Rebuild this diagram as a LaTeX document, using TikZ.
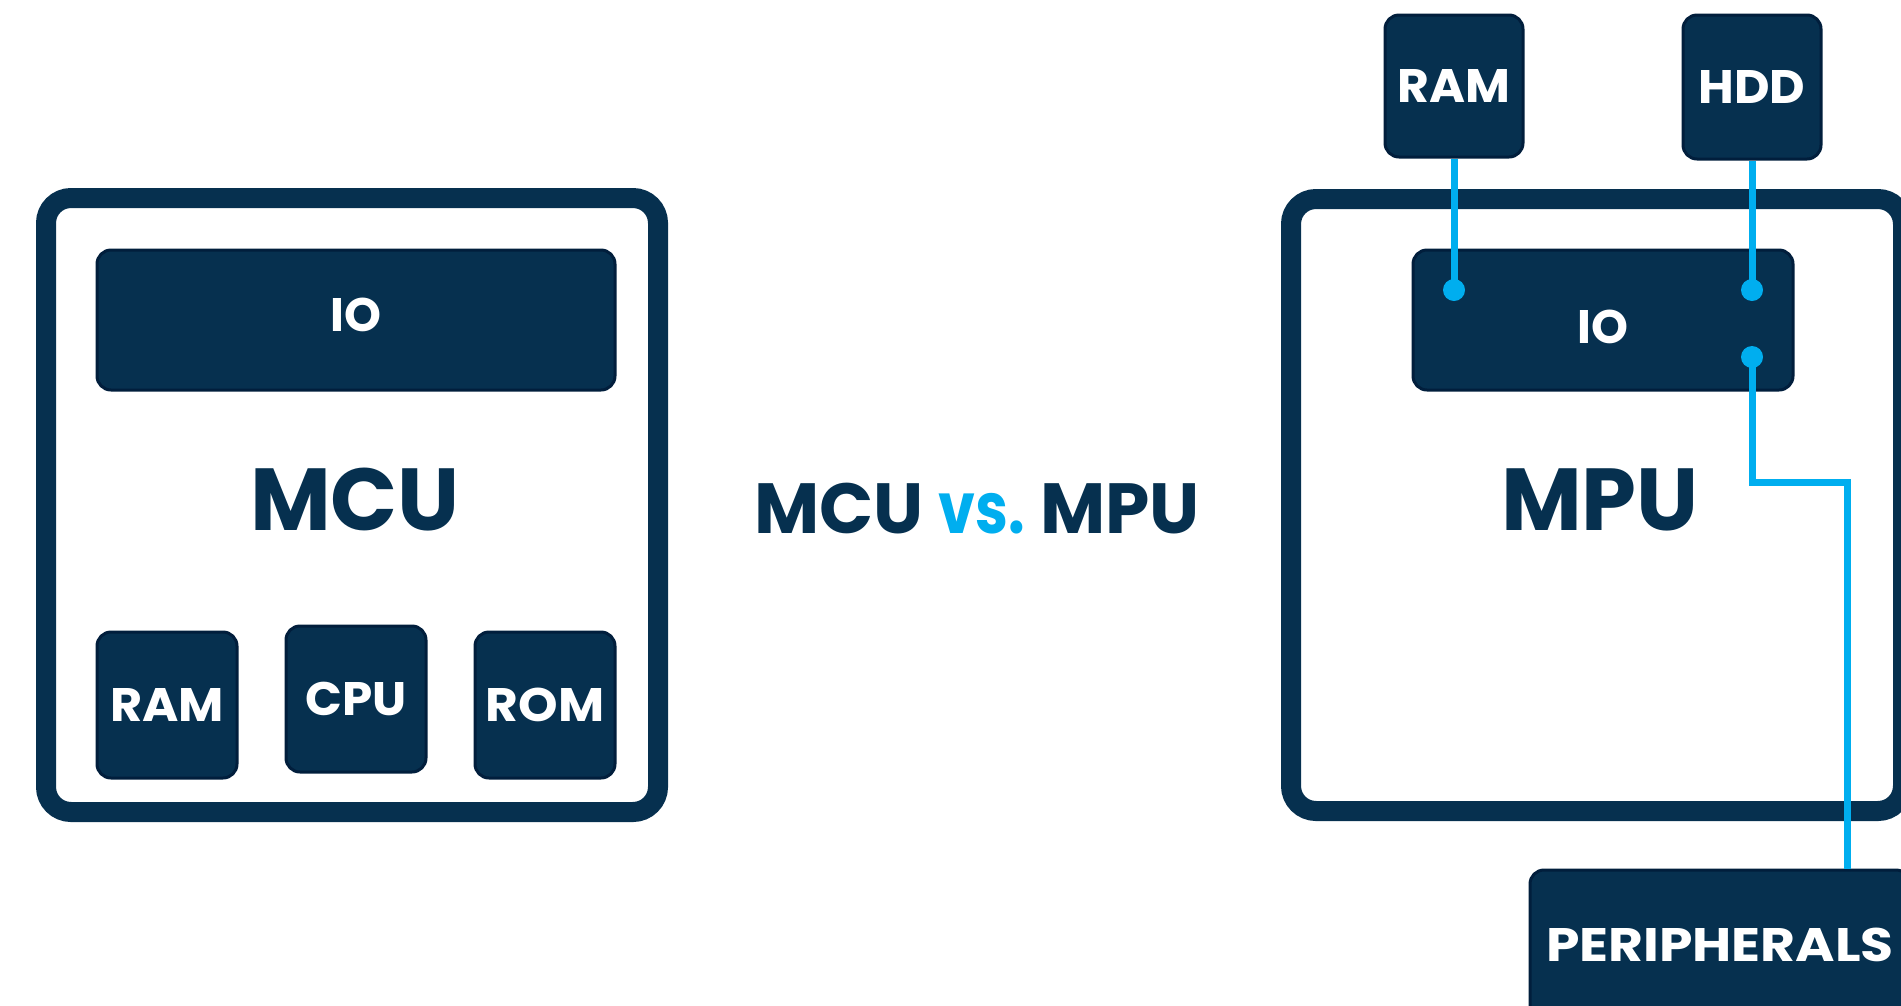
\documentclass[tikz,border=0pt]{standalone}
\usepackage{fontspec}
\setmainfont{Poppins}
\definecolor{navy}{HTML}{06304F}
\definecolor{navyedge}{HTML}{011E3C}
\definecolor{wire}{HTML}{00AEEF}
\newcommand{\wide}[2]{\scalebox{#1}[1]{#2}}

\begin{document}
\begin{tikzpicture}[x=1pt,y=-1pt,
  frame/.style={rectangle, draw=navy, line width=20pt, rounded corners=25pt, inner sep=0pt},
  chiptext/.style={text=white, font=\fontsize{47}{47}\selectfont\bfseries, inner sep=0pt},
  chip/.style={rectangle, fill=navy, draw=navyedge, line width=3pt, rounded corners=14pt,
    chiptext},
  sq/.style={chip, minimum width=140pt, minimum height=146pt},
  bar/.style={chip, minimum width=518pt, minimum height=140pt},
  big/.style={text=navy, font=\fontsize{88}{88}\selectfont\bfseries, inner sep=0pt},
  title/.style={text=navy, font=\fontsize{71}{71}\selectfont\bfseries, inner sep=0pt},
  wireline/.style={draw=wire, line width=7pt, line join=miter},
  pin/.style={circle, fill=wire, minimum size=22pt, inner sep=0pt},
]
\useasboundingbox (0,0) rectangle (1901,1005);

% ---------- MCU: everything on one chip ----------
\node[frame, minimum width=612pt, minimum height=614pt] (mcuframe) at (352,505) {};
\node[bar, label={[chiptext, yshift=5pt]center:IO}] (mcuio) at (356,320) {};
\node[big] (mcu) at (355,500) {MCU};
\node[sq] (mcuram) at (167,705) {\wide{1.05}{RAM}};
\node[sq] (mcucpu) at (356,699) {\wide{1.03}{CPU}};
\node[sq] (mcurom) at (545,705) {\wide{1.07}{ROM}};

% ---------- title ----------
\node[title] (head) at (977,509) {MCU {\color{wire}\wide{0.83}{vs.}} MPU};

% ---------- MPU: memory and storage outside ----------
\node[frame, minimum width=612pt, minimum height=612pt] (mpuframe) at (1597,505) {};
\node[bar, minimum width=380pt, label={[chiptext, yshift=-7pt]center:IO}] (mpuio) at (1603,320) {};
\node[big] (mpu) at (1600,500) {MPU};
\node[sq, minimum width=138pt, minimum height=142pt] (extram) at (1454,86) {\wide{1.04}{RAM}};
\node[sq, minimum width=138pt, minimum height=144pt] (hdd) at (1752,87) {\wide{1.04}{HDD}};
\node[chip, minimum width=380pt, minimum height=150pt] (periph) at (1720,945) {\wide{1.14}{PERIPHERALS}};

% connection points on the IO block
\coordinate (pinram) at (1454,290);
\coordinate (pinhdd) at (1752,290);
\coordinate (pinper) at (1752,357);
\coordinate (bend) at (1847,482);

\draw[wireline] (extram.south) -- (pinram);
\draw[wireline] (hdd.south) -- (pinhdd);
\draw[wireline] (pinper) |- (bend) -- (bend |- periph.north);

\node[pin] (dotram) at (pinram) {};
\node[pin] (dothdd) at (pinhdd) {};
\node[pin] (dotper) at (pinper) {};
\end{tikzpicture}
\end{document}
